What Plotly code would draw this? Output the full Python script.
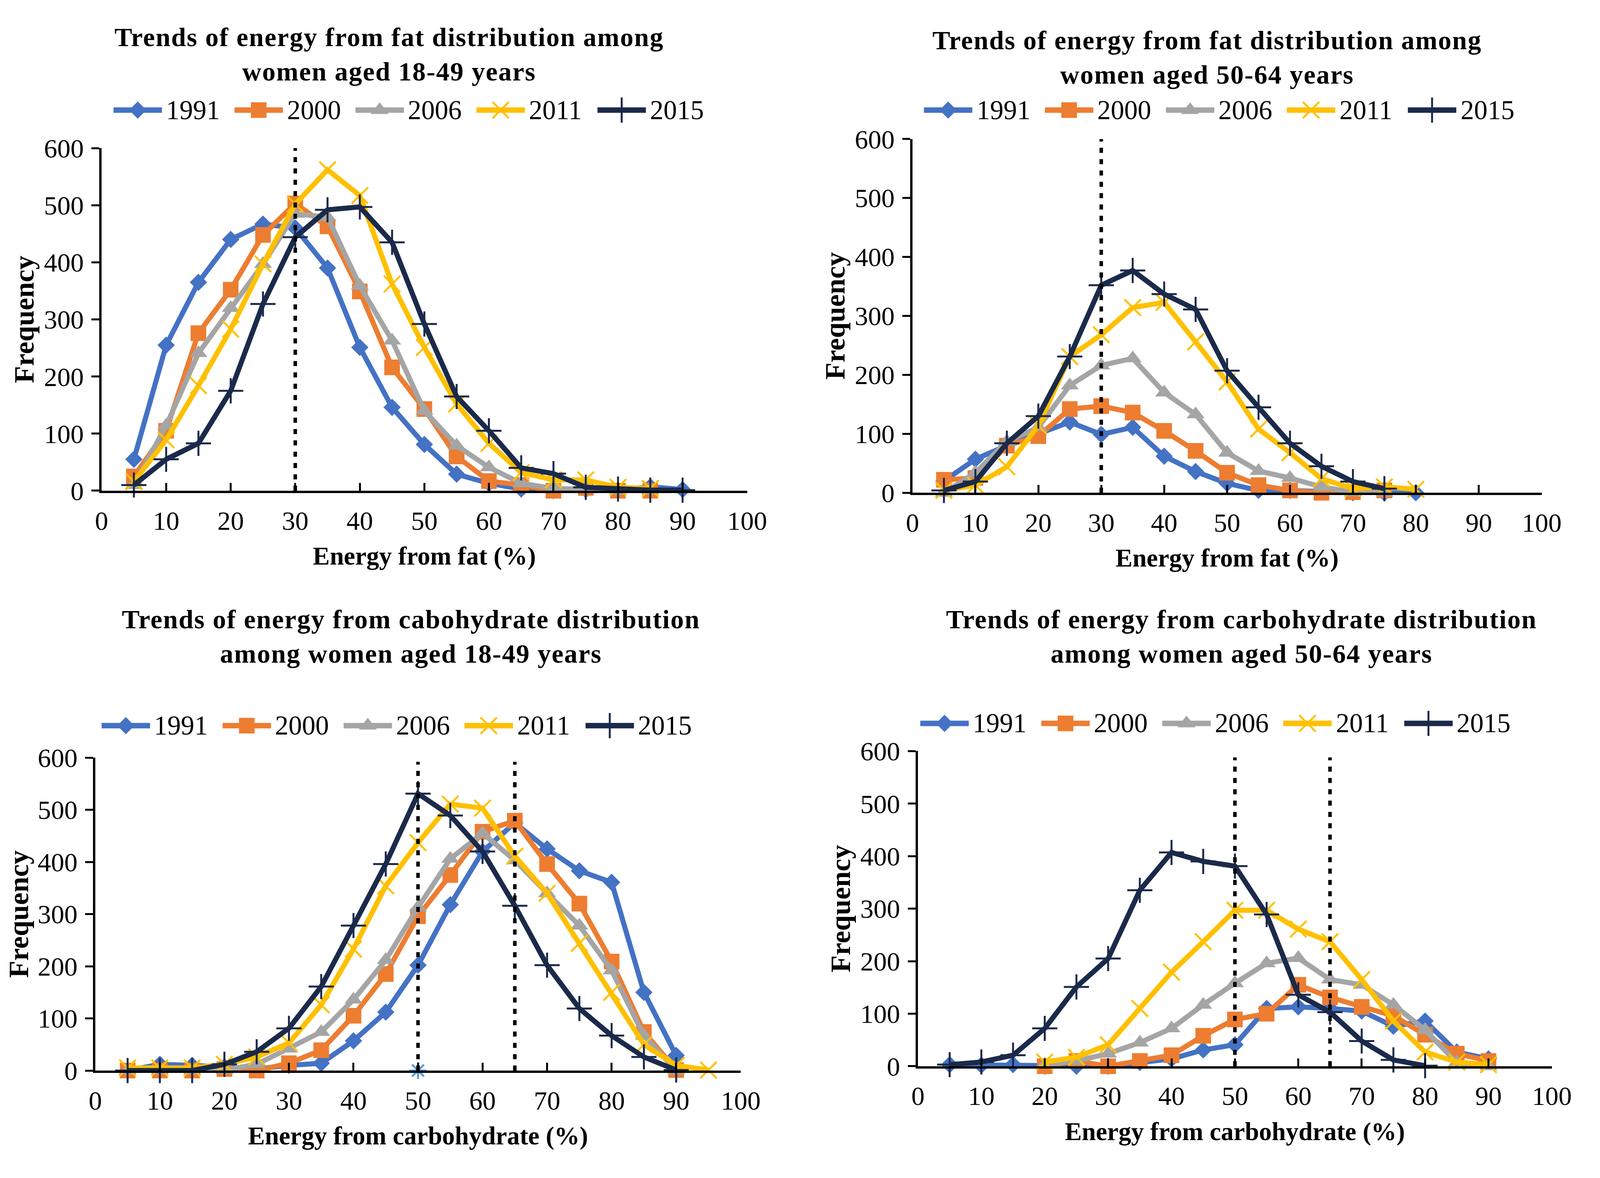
import plotly.graph_objects as go

# ---------------- data ----------------
years = ["1991", "2000", "2006", "2011", "2015"]

# Panel 1: energy from fat, women 18-49
fat_1849_x = [5, 10, 15, 20, 25, 30, 35, 40, 45, 50, 55, 60, 65, 70, 75, 80, 85, 90]
fat_1849_1991 = [55, 255, 365, 440, 467, 460, 390, 251, 146, 81, 29, 13, 3, 0, 2, 1, 7, 2]
fat_1849_2000 = [25, 105, 276, 352, 448, 503, 463, 349, 216, 143, 60, 17, 10, 0, 5, 0, 0, None]
fat_1849_2006 = [10, 114, 241, 320, 397, 485, 479, 359, 263, 140, 79, 41, 13, 4, 3, 0, 0, None]
fat_1849_2011 = [16, 89, 184, 283, 397, 502, 562, 517, 362, 251, 152, 83, 32, 19, 19, 6, 4, None]
fat_1849_2015 = [10, 55, 83, 175, 327, 444, 492, 497, 435, 292, 165, 105, 40, 30, 6, 3, 1, 1]

# Panel 2: energy from fat, women 50-64
fat_5064_x = [5, 10, 15, 20, 25, 30, 35, 40, 45, 50, 55, 60, 65, 70, 75, 80]
fat_5064_1991 = [20, 57, 80, 100, 120, 99, 111, 62, 36, 16, 4, 4, 1, 0, 0, 0]
fat_5064_2000 = [22, 25, 80, 96, 142, 147, 136, 105, 71, 34, 13, 4, 0, 1, 4, None]
fat_5064_2006 = [0, 34, 87, 111, 182, 216, 228, 170, 133, 68, 37, 25, 10, 1, 0, None]
fat_5064_2011 = [4, 13, 44, 114, 231, 268, 314, 323, 256, 188, 108, 68, 24, 7, 10, 6]
fat_5064_2015 = [4, 19, 84, 130, 231, 352, 377, 337, 311, 207, 145, 84, 45, 19, 7, None]

# Panel 3: energy from carbohydrate, women 18-49
carb_1849_x = [5, 10, 15, 20, 25, 30, 35, 40, 45, 50, 55, 60, 65, 70, 75, 80, 85, 90, 95]
carb_1849_1991 = [0, 12, 10, 7, 3, 10, 14, 57, 112, 202, 318, 420, 475, 425, 383, 361, 150, 29, None]
carb_1849_2000 = [0, 0, 0, 3, 0, 14, 39, 105, 185, 296, 375, 458, 479, 396, 320, 209, 74, 1, None]
carb_1849_2006 = [0, 0, 0, 1, 12, 42, 74, 136, 212, 313, 406, 455, 403, 340, 278, 192, 67, 0, None]
carb_1849_2011 = [5, 5, 5, 12, 26, 53, 126, 233, 354, 437, 511, 503, 411, 340, 244, 150, 50, 10, 1]
carb_1849_2015 = [0, 0, 0, 12, 36, 81, 161, 278, 396, 531, 489, 420, 316, 202, 119, 67, 26, 1, None]
carb_1849_stray_x = [50]
carb_1849_stray_y = [0]

# Panel 4: energy from carbohydrate, women 50-64
carb_5064_x = [5, 10, 15, 20, 25, 30, 35, 40, 45, 50, 55, 60, 65, 70, 75, 80, 85, 90]
carb_5064_1991 = [3, 2, 3, 0, 0, 0, 7, 14, 31, 41, 110, 113, 110, 105, 76, 86, 27, 14]
carb_5064_2000 = [None, None, None, 0, 10, 0, 10, 21, 58, 89, 100, 155, 131, 113, 96, 60, 24, 10]
carb_5064_2006 = [None, None, None, 3, 10, 24, 45, 72, 117, 158, 196, 206, 165, 155, 117, 69, 7, 0]
carb_5064_2011 = [None, None, None, 8, 17, 41, 110, 179, 237, 297, 297, 261, 237, 165, 86, 27, 8, 3]
carb_5064_2015 = [3, 8, 21, 72, 151, 205, 335, 407, 390, 381, 289, 136, 103, 48, 12, 1, None, None]

fat_cutoffs = [30]
carb_cutoffs = [50, 65]

x_ticks = [0, 10, 20, 30, 40, 50, 60, 70, 80, 90, 100]
y_ticks = [0, 100, 200, 300, 400, 500, 600]

titles = [
    "Trends of energy from fat distribution among<br>women aged 18-49 years",
    "Trends of energy from fat distribution among<br>women aged 50-64 years",
    "Trends of energy from cabohydrate distribution<br>among women aged 18-49 years",
    "Trends of energy from carbohydrate distribution<br>among women aged 50-64 years",
]
x_titles = ["Energy from fat (%)", "Energy from fat (%)",
            "Energy from carbohydrate (%)", "Energy from carbohydrate (%)"]
y_title = "Frequency"

# ---------------- styles / layout ----------------
FONT = "Liberation Serif"
colors = ["#4472C4", "#ED7D31", "#A5A5A5", "#FFC000", "#1B2A4A"]
symbols = ["diamond", "square", "triangle-up", "x-thin-open", "cross-thin-open"]
msizes = [34, 40, 40, 42, 46]
mlw = [0, 0, 0, 5, 5]
LW = 13

panels = [
    dict(x=fat_1849_x, ys=[fat_1849_1991, fat_1849_2000, fat_1849_2006, fat_1849_2011, fat_1849_2015],
         cut=fat_cutoffs, cut_top=600,
         xd=[0.0586, 0.4705], yd=[0.5857, 0.8857], title_xy=(0.242, 0.968),
         leg=(0.0662, 0.919)),
    dict(x=fat_5064_x, ys=[fat_5064_1991, fat_5064_2000, fat_5064_2006, fat_5064_2011, fat_5064_2015],
         cut=fat_cutoffs, cut_top=600,
         xd=[0.576, 0.9775], yd=[0.5839, 0.8937], title_xy=(0.764, 0.965),
         leg=(0.5833, 0.919)),
    dict(x=carb_1849_x, ys=[carb_1849_1991, carb_1849_2000, carb_1849_2006, carb_1849_2011, carb_1849_2015],
         cut=carb_cutoffs, cut_top=592,
         xd=[0.0546, 0.4664], yd=[0.078, 0.352], title_xy=(0.256, 0.458),
         leg=(0.0586, 0.380)),
    dict(x=carb_5064_x, ys=[carb_5064_1991, carb_5064_2000, carb_5064_2006, carb_5064_2011, carb_5064_2015],
         cut=carb_cutoffs, cut_top=588,
         xd=[0.5795, 0.984], yd=[0.0818, 0.3577], title_xy=(0.786, 0.458),
         leg=(0.581, 0.382)),
]

LEG_PITCH = 0.0772
LEG_LINE = 0.0309
LEG_TEXT = 0.0330

fig = go.Figure()
annotations = []
shapes = []

for p, pan in enumerate(panels):
    k = "" if p == 0 else str(p + 1)
    xa, ya = "x" + k, "y" + k
    for i, yr in enumerate(years):
        fig.add_trace(go.Scatter(
            x=pan["x"], y=pan["ys"][i], name=yr, mode="lines+markers",
            xaxis=xa, yaxis=ya, showlegend=False, cliponaxis=False,
            line=dict(color=colors[i], width=LW),
            marker=dict(symbol=symbols[i], size=msizes[i], color=colors[i],
                        line=dict(color=colors[i], width=mlw[i])),
        ))
    if p == 2:
        fig.add_trace(go.Scatter(
            x=carb_1849_stray_x, y=carb_1849_stray_y, mode="markers",
            xaxis=xa, yaxis=ya, showlegend=False, cliponaxis=False,
            marker=dict(symbol="asterisk-open", size=36, color="#5B9BD5",
                        line=dict(color="#5B9BD5", width=5)),
        ))
    for c in pan["cut"]:
        shapes.append(dict(type="line", xref=xa, yref=ya, x0=c, x1=c, y0=0, y1=pan["cut_top"],
                           line=dict(color="black", width=9, dash="13px,16px"), layer="above"))

    axis_common = dict(showline=True, linecolor="black", linewidth=6, showgrid=False,
                       zeroline=False, tickfont=dict(family=FONT, size=68, color="black"),
                       tickcolor="black", tickwidth=5)
    fig.layout["xaxis" + k] = dict(
        axis_common, domain=pan["xd"], anchor=ya, range=[0, 100], tickvals=x_ticks,
        ticks="inside", ticklen=20, ticklabelstandoff=12,
        title=dict(text="<b>" + x_titles[p] + "</b>", font=dict(family=FONT, size=65, color="black"),
                   standoff=32))
    fig.layout["yaxis" + k] = dict(
        axis_common, domain=pan["yd"], anchor=xa, range=[0, 600], tickvals=y_ticks,
        ticks="outside", ticklen=20, ticklabelstandoff=6,
        title=dict(text="<b>" + y_title + "</b>", font=dict(family=FONT, size=72, color="black"),
                   standoff=4))

    tx, ty = pan["title_xy"]
    annotations.append(dict(
        xref="paper", yref="paper", x=tx, y=ty, xanchor="center", yanchor="middle",
        showarrow=False, align="center",
        text='<span style="letter-spacing:2px"><b>' + titles[p] + "</b></span>",
        font=dict(family=FONT, size=68, color="black")))

    # legend drawn with full-size symbols, as in the original
    lx, ly = pan["leg"]
    for i, yr in enumerate(years):
        xs = lx + i * LEG_PITCH
        fig.add_trace(go.Scatter(
            x=[xs, xs + LEG_LINE], y=[ly, ly], mode="lines", xaxis="x5", yaxis="y5",
            showlegend=False, cliponaxis=False, hoverinfo="skip",
            line=dict(color=colors[i], width=14)))
        fig.add_trace(go.Scatter(
            x=[xs + LEG_LINE / 2], y=[ly], mode="markers", xaxis="x5", yaxis="y5",
            showlegend=False, cliponaxis=False, hoverinfo="skip",
            marker=dict(symbol=symbols[i], size=msizes[i], color=colors[i],
                        line=dict(color=colors[i], width=mlw[i]))))
        annotations.append(dict(
            xref="paper", yref="paper", x=xs + LEG_TEXT, y=ly, xanchor="left", yanchor="middle",
            showarrow=False, text=yr, font=dict(family=FONT, size=69, color="black")))

fig.layout["xaxis5"] = dict(domain=[0, 1], range=[0, 1], visible=False, anchor="y5")
fig.layout["yaxis5"] = dict(domain=[0, 1], range=[0, 1], visible=False, anchor="x5")

fig.update_layout(
    autosize=True, margin=dict(l=0, r=0, t=0, b=0),
    paper_bgcolor="white", plot_bgcolor="rgba(0,0,0,0)",
    showlegend=False, annotations=annotations, shapes=shapes,
    font=dict(family=FONT, color="black"),
)

# the figure fills the browser window
fig.write_html("out.html", default_width="calc(100vw - 16px)", default_height="calc(100vh - 16px)")
